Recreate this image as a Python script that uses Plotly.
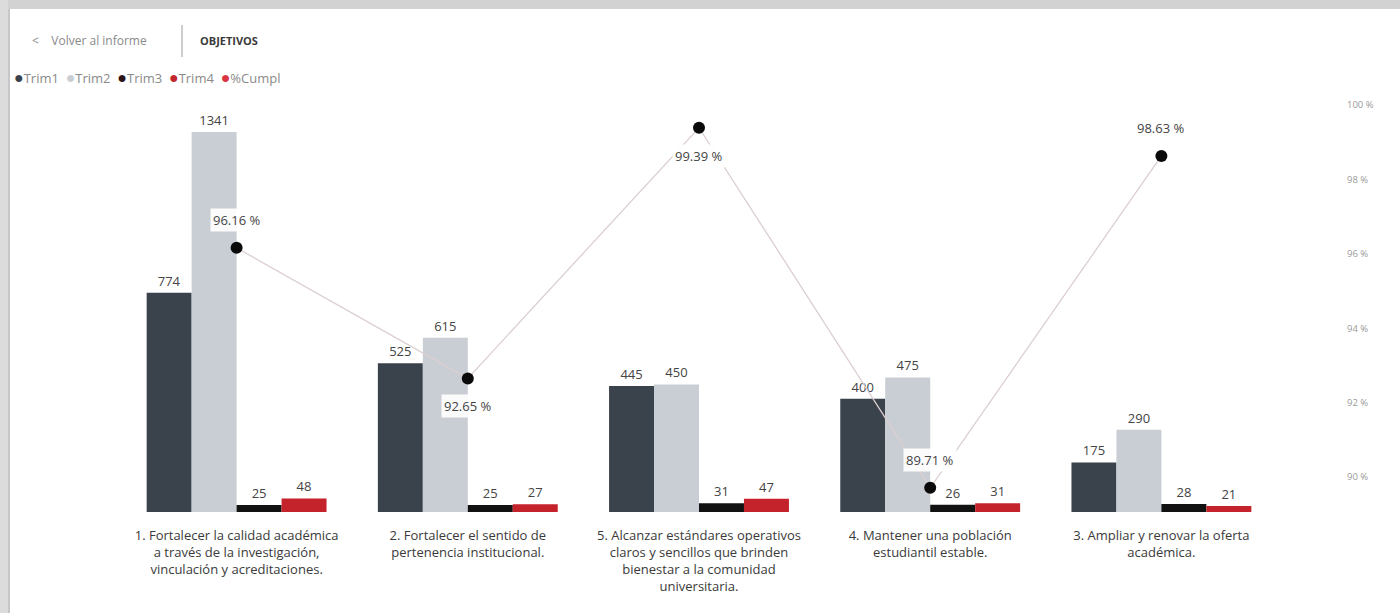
import plotly.graph_objects as go

# Objetivos estratégicos: avance trimestral y porcentaje de cumplimiento
categorias = [
    "1. Fortalecer la calidad académica<br>a través de la investigación,<br>vinculación y acreditaciones.",
    "2. Fortalecer el sentido de<br>pertenencia institucional.",
    "5. Alcanzar estándares operativos<br>claros y sencillos que brinden<br>bienestar a la comunidad<br>universitaria.",
    "4. Mantener una población<br>estudiantil estable.",
    "3. Ampliar y renovar la oferta<br>académica.",
]
trim1 = [774, 525, 445, 400, 175]
trim2 = [1341, 615, 450, 475, 290]
trim3 = [25, 25, 31, 26, 28]
trim4 = [48, 27, 47, 31, 21]
cumplimiento = [96.16, 92.65, 99.39, 89.71, 98.63]
pct_ticks = [90, 92, 94, 96, 98, 100]

series = [("Trim1", trim1, "#3a434b"),
          ("Trim2", trim2, "#c9cdd4"),
          ("Trim3", trim3, "#121212"),
          ("Trim4", trim4, "#c5232b")]
legend_colors = ["#3a434b", "#c9cdd4", "#2a1216", "#c0282e", "#d9343f"]
legend_names = ["Trim1", "Trim2", "Trim3", "Trim4", "%Cumpl"]
label_side = [1, -1, -1, 1, 1]  # 1 = etiqueta encima del punto, -1 = debajo

W, H = 1400, 613
x0, x1 = 121, 1277        # área de trazado en píxeles
y_top, y_base = 95, 512
FONT = "Open Sans, Noto Sans, sans-serif"

fig = go.Figure()
for name, vals, color in series:
    fig.add_trace(go.Bar(
        name=name, x=list(range(len(categorias))), y=vals,
        marker=dict(color=color, line=dict(width=0)),
        text=[str(v) for v in vals], textposition="outside",
        textfont=dict(size=13, color="#444444"),
        cliponaxis=False, showlegend=False,
    ))

fig.add_trace(go.Scatter(
    name="%Cumpl", x=list(range(len(categorias))), y=cumplimiento,
    yaxis="y2", mode="lines+markers",
    line=dict(color="#dccfd0", width=1.3),
    marker=dict(color="#0a0a0a", size=12),
    showlegend=False, cliponaxis=False,
))

annotations = []
for i, (v, s) in enumerate(zip(cumplimiento, label_side)):
    annotations.append(dict(
        x=i, y=v, xref="x", yref="y2", text=f"{v:.2f} %",
        showarrow=False, yshift=28 * s, bgcolor="rgba(255,255,255,0.92)",
        font=dict(size=13, color="#444444"), borderpad=2,
    ))

# Encabezado
annotations.append(dict(x=30 / W, y=1 - 40 / H, xref="paper", yref="paper",
                        text="&lt;    Volver al informe", showarrow=False,
                        xanchor="left", yanchor="middle",
                        font=dict(size=12, color="#8a8a8a")))
annotations.append(dict(x=198 / W, y=1 - 40 / H, xref="paper", yref="paper",
                        text="<b>OBJETIVOS</b>", showarrow=False,
                        xanchor="left", yanchor="middle",
                        font=dict(size=11, color="#3a3a3a")))

# Leyenda compacta
legend_html = "  ".join(
    f'<span style="color:{c};font-size:16px">●</span>{n}'
    for n, c in zip(legend_names, legend_colors)
)
annotations.append(dict(x=12 / W, y=1 - 77 / H, xref="paper", yref="paper",
                        text=legend_html, showarrow=False,
                        xanchor="left", yanchor="middle",
                        font=dict(size=13, color="#8a8a8a")))

shapes = [
    dict(type="rect", xref="paper", yref="paper", x0=0, x1=1,
         y0=1 - 9 / H, y1=1, fillcolor="#d2d2d2", line=dict(width=0), layer="above"),
    dict(type="rect", xref="paper", yref="paper", x0=0, x1=8 / W,
         y0=0, y1=1, fillcolor="#dcdcdc", line=dict(width=0), layer="above"),
    dict(type="line", xref="paper", yref="paper", x0=9 / W, x1=9 / W,
         y0=0, y1=1 - 9 / H, line=dict(color="#b5b5b5", width=1.5)),
    dict(type="line", xref="paper", yref="paper", x0=182 / W, x1=182 / W,
         y0=1 - 25 / H, y1=1 - 57 / H, line=dict(color="#9a9a9a", width=1)),
]

px_per_unit = (y_base - 132) / max(trim2)
y_max = (y_base - y_top) / px_per_unit
px_per_pct = (477 - 105) / 10
y2_min = 90 - (y_base - 477) / px_per_pct
y2_max = 100 + (105 - y_top) / px_per_pct

fig.update_layout(
    width=W, height=H, margin=dict(l=0, r=0, t=0, b=0),
    paper_bgcolor="white", plot_bgcolor="white",
    font=dict(family=FONT, color="#333333"),
    barmode="group", bargap=0.222, bargroupgap=0,
    annotations=annotations, shapes=shapes,
    xaxis=dict(domain=[x0 / W, x1 / W], tickvals=list(range(len(categorias))),
               ticktext=categorias, range=[-0.5, len(categorias) - 0.5],
               showgrid=False, showline=False, zeroline=False, ticks="",
               ticklabelstandoff=14,
               tickfont=dict(size=13, color="#3a3a3a"), automargin=False),
    yaxis=dict(domain=[1 - y_base / H, 1 - y_top / H], range=[0, y_max],
               visible=False, fixedrange=True),
    yaxis2=dict(overlaying="y", side="right", anchor="free", position=1346 / W,
                range=[y2_min, y2_max], tickvals=pct_ticks,
                ticktext=[f"{t} %" for t in pct_ticks],
                showgrid=False, zeroline=False, showline=False, ticks="",
                tickfont=dict(size=9.5, color="#9a9a9a"), automargin=False),
    showlegend=False,
)

fig.write_html("out.html")
